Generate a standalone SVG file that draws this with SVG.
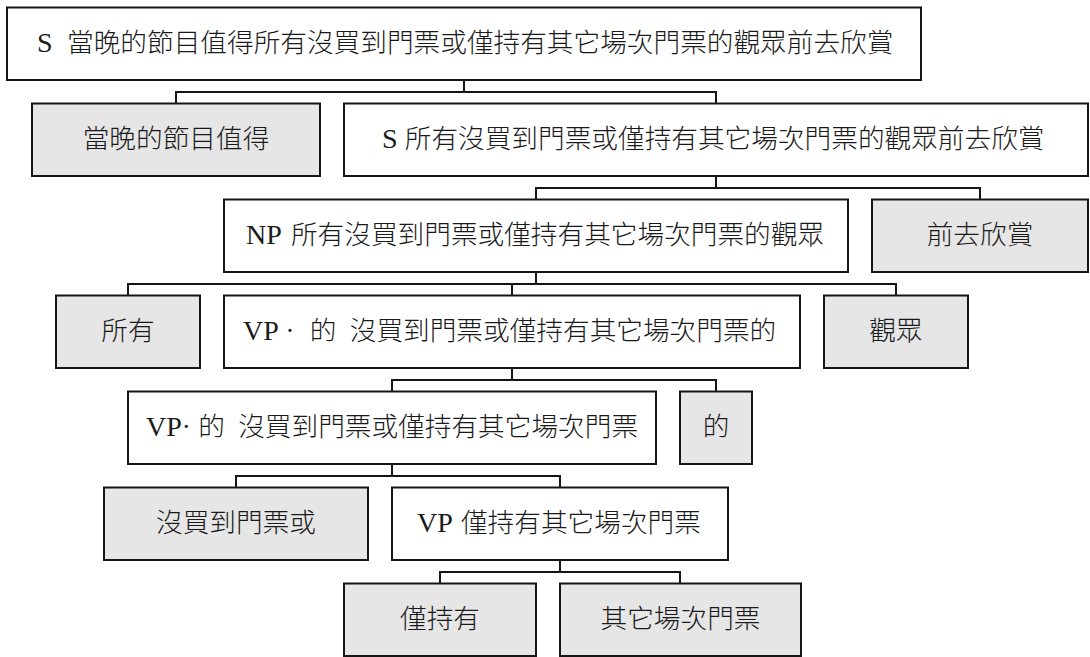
<svg xmlns="http://www.w3.org/2000/svg" width="1090" height="657" viewBox="0 0 1090 657">
<style>
.box{stroke:#161616;stroke-width:2}
.w{fill:#ffffff}
.g{fill:#e6e6e6}
.t{font-family:"Liberation Serif","Noto Sans CJK TC","Noto Sans CJK SC",serif;font-size:26.67px;font-weight:300;fill:#1a1a1a}
.l{font-size:28px;font-weight:400;fill:#1a1a1a}
.c{text-anchor:middle}
#connectors path{fill:none;stroke:#161616;stroke-width:2}
</style>
<rect width="1090" height="657" fill="#ffffff"/>
<g id="connectors">
<path d="M464 80V92M176 103.5V92H716V103.5"/>
<path d="M716 176V188M536 199.5V188H980V199.5"/>
<path d="M536 272V284M128 295.5V284H896V295.5M512 284V295.5"/>
<path d="M512 368V380M392 391.5V380H716V391.5"/>
<path d="M392 464V476M236 487.5V476H560V487.5"/>
<path d="M560 560V572M440 583.5V572H680V583.5"/>
</g>
<g id="n1"><rect class="box w" x="7" y="7.5" width="914" height="72.5"/>
<text class="t" x="37" y="51.5"><tspan class="l">S</tspan><tspan dx="7.8"> 當晚的節目值得所有沒買到門票或僅持有其它場次門票的觀眾前去欣賞</tspan></text></g>
<g id="n2"><rect class="box g" x="32" y="103.5" width="288" height="72.5"/>
<text class="t c" x="176" y="147.5">當晚的節目值得</text></g>
<g id="n3"><rect class="box w" x="344" y="103.5" width="744" height="72.5"/>
<text class="t" x="382" y="147.5"><tspan class="l">S</tspan><tspan dx="0.5"> 所有沒買到門票或僅持有其它場次門票的觀眾前去欣賞</tspan></text></g>
<g id="n4"><rect class="box w" x="224" y="199.5" width="624" height="72.5"/>
<text class="t" x="246" y="243.5"><tspan class="l">NP</tspan><tspan dx="2.5"> 所有沒買到門票或僅持有其它場次門票的觀眾</tspan></text></g>
<g id="n5"><rect class="box g" x="872" y="199.5" width="216" height="72.5"/>
<text class="t c" x="980" y="243.5">前去欣賞</text></g>
<g id="n6"><rect class="box g" x="56" y="295.5" width="144" height="72.5"/>
<text class="t c" x="128" y="339.5">所有</text></g>
<g id="n7"><rect class="box w" x="224" y="295.5" width="576" height="72.5"/>
<text class="t" x="243" y="339.5"><tspan class="l">VP</tspan> · <tspan dx="8.7">的 </tspan><tspan dx="6.7">沒買到門票或僅持有其它場次門票的</tspan></text></g>
<g id="n8"><rect class="box g" x="824" y="295.5" width="144" height="72.5"/>
<text class="t c" x="896" y="339.5">觀眾</text></g>
<g id="n9"><rect class="box w" x="128" y="391.5" width="528" height="72.5"/>
<text class="t" x="146" y="435.5"><tspan class="l">VP</tspan>·<tspan dx="7.5">的 </tspan><tspan dx="6.7">沒買到門票或僅持有其它場次門票</tspan></text></g>
<g id="n10"><rect class="box g" x="680" y="391.5" width="72" height="72.5"/>
<text class="t c" x="716" y="435.5">的</text></g>
<g id="n11"><rect class="box g" x="104" y="487.5" width="264" height="72.5"/>
<text class="t c" x="236" y="531.5">沒買到門票或</text></g>
<g id="n12"><rect class="box w" x="392" y="487.5" width="336" height="72.5"/>
<text class="t" x="417" y="531.5"><tspan class="l">VP</tspan><tspan dx="1.5"> 僅持有其它場次門票</tspan></text></g>
<g id="n13"><rect class="box g" x="344" y="583.5" width="192" height="72.5"/>
<text class="t c" x="440" y="627.5">僅持有</text></g>
<g id="n14"><rect class="box g" x="560" y="583.5" width="241" height="72.5"/>
<text class="t c" x="680.5" y="627.5">其它場次門票</text></g>
</svg>
